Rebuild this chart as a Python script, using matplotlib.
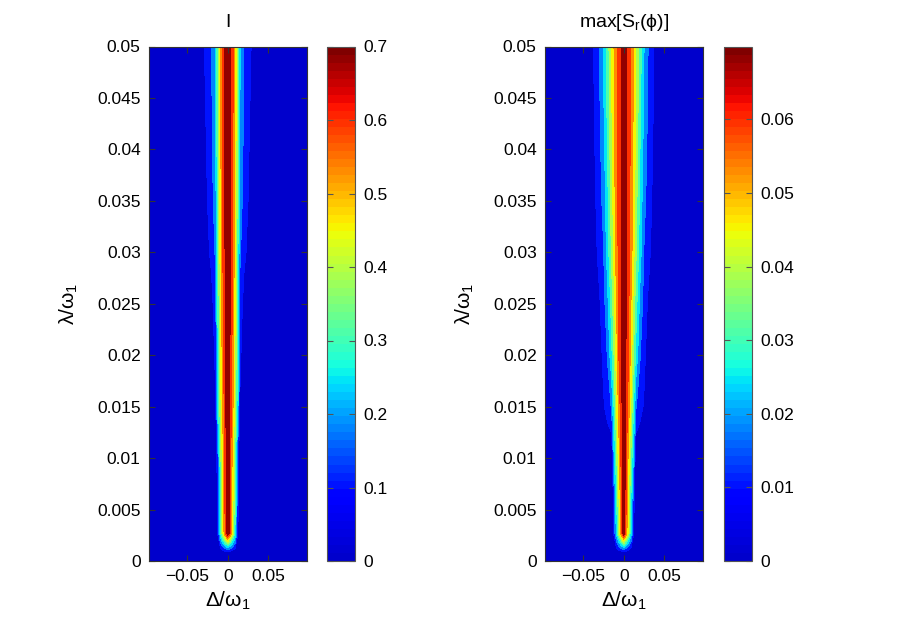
import numpy as np
import matplotlib
matplotlib.use("Agg")
import matplotlib.pyplot as plt
from matplotlib.colors import Normalize, LinearSegmentedColormap
from matplotlib.cm import ScalarMappable

plt.rcParams['font.family'] = ['Liberation Sans', 'DejaVu Sans']
plt.rcParams['mathtext.fontset'] = 'custom'
plt.rcParams['mathtext.rm'] = 'Liberation Sans'
plt.rcParams['mathtext.default'] = 'regular'

# detuning (half grid, mirrored about 0) and coupling values
delta_half = [0, 0.003, 0.006, 0.009, 0.012, 0.015, 0.02, 0.025, 0.03, 0.035, 0.04, 0.097]
lam = [0, 0.0007, 0.0027, 0.005, 0.01, 0.015, 0.02, 0.025, 0.03, 0.035, 0.04, 0.045, 0.05]

# I, one row per lam value, columns follow delta_half
I_half = [
    [0, 0, 0, 0, 0, 0, 0, 0, 0, 0, 0, 0],
    [0, 0, 0, 0, 0, 0, 0, 0, 0, 0, 0, 0],
    [0.70, 0.57, 0.42, 0.27, 0.08, 0, 0, 0, 0, 0, 0, 0],
    [0.70, 0.58, 0.44, 0.29, 0.10, 0, 0, 0, 0, 0, 0, 0],
    [0.70, 0.59, 0.46, 0.32, 0.13, 0, 0, 0, 0, 0, 0, 0],
    [0.70, 0.61, 0.51, 0.39, 0.25, 0.06, 0, 0, 0, 0, 0, 0],
    [0.70, 0.62, 0.53, 0.41, 0.27, 0.09, 0.01, 0, 0, 0, 0, 0],
    [0.70, 0.63, 0.55, 0.43, 0.29, 0.12, 0.04, 0, 0, 0, 0, 0],
    [0.70, 0.64, 0.56, 0.45, 0.31, 0.15, 0.09, 0.05, 0.01, 0, 0, 0],
    [0.70, 0.645, 0.57, 0.46, 0.33, 0.18, 0.11, 0.07, 0.03, 0, 0, 0],
    [0.70, 0.65, 0.57, 0.47, 0.34, 0.20, 0.12, 0.08, 0.04, 0, 0, 0],
    [0.70, 0.65, 0.58, 0.47, 0.35, 0.21, 0.13, 0.09, 0.05, 0.01, 0, 0],
    [0.70, 0.65, 0.58, 0.48, 0.35, 0.22, 0.14, 0.10, 0.06, 0.02, 0, 0],
]

# max[S_r(phi)]
S_half = [
    [0, 0, 0, 0, 0, 0, 0, 0, 0, 0, 0, 0],
    [0, 0, 0, 0, 0, 0, 0, 0, 0, 0, 0, 0],
    [0.0699, 0.054, 0.038, 0.023, 0.008, 0, 0, 0, 0, 0, 0, 0],
    [0.0699, 0.055, 0.040, 0.025, 0.009, 0, 0, 0, 0, 0, 0, 0],
    [0.0699, 0.058, 0.046, 0.033, 0.020, 0, 0, 0, 0, 0, 0, 0],
    [0.0699, 0.060, 0.052, 0.041, 0.028, 0.0145, 0.010, 0.006, 0.001, 0, 0, 0],
    [0.0699, 0.062, 0.056, 0.045, 0.035, 0.026, 0.0145, 0.009, 0.003, 0, 0, 0],
    [0.0699, 0.063, 0.057, 0.0485, 0.0395, 0.031, 0.019, 0.011, 0.006, 0.0025, 0, 0],
    [0.0699, 0.0635, 0.058, 0.052, 0.044, 0.036, 0.024, 0.0135, 0.0095, 0.005, 0.001, 0],
    [0.0699, 0.0635, 0.0585, 0.053, 0.0455, 0.038, 0.026, 0.016, 0.011, 0.0065, 0.002, 0],
    [0.0699, 0.063, 0.059, 0.054, 0.047, 0.040, 0.028, 0.018, 0.012, 0.0075, 0.003, 0],
    [0.0699, 0.063, 0.059, 0.055, 0.048, 0.041, 0.030, 0.020, 0.013, 0.0085, 0.0035, 0],
    [0.0699, 0.063, 0.059, 0.055, 0.049, 0.042, 0.031, 0.021, 0.014, 0.009, 0.004, 0],
]

x_ticks = [-0.05, 0, 0.05]
x_labels = ['\u22120.05', '0', '0.05']
y_ticks = [0, 0.005, 0.01, 0.015, 0.02, 0.025, 0.03, 0.035, 0.04, 0.045, 0.05]
y_labels = ['0', '0.005', '0.01', '0.015', '0.02', '0.025', '0.03', '0.035', '0.04', '0.045', '0.05']
I_cticks = [0, 0.1, 0.2, 0.3, 0.4, 0.5, 0.6, 0.7]
S_cticks = [0, 0.01, 0.02, 0.03, 0.04, 0.05, 0.06]
n_bands = 10
# where on the colour map each filled band takes its colour
band_pos = [0.0, 0.15, 0.25, 0.35, 0.45, 0.55, 0.65, 0.75, 0.85, 0.97]


def mirror(half):
    # data is symmetric in delta, so build the full grid from the right half
    half = np.array(half, dtype=float)
    return np.hstack([half[:, :0:-1], half])


delta = np.concatenate([-np.array(delta_half[:0:-1]), np.array(delta_half)])
I_full = mirror(I_half)
S_full = mirror(S_half)

# jet, with a slightly lighter blue end like the original
jet_seg = {
    'red': [(0, 0, 0), (0.35, 0, 0), (0.66, 1, 1), (0.89, 1, 1), (1, 0.5, 0.5)],
    'green': [(0, 0, 0), (0.125, 0, 0), (0.375, 1, 1), (0.64, 1, 1), (0.91, 0, 0), (1, 0, 0)],
    'blue': [(0, 0.8, 0.8), (0.11, 1, 1), (0.34, 1, 1), (0.65, 0, 0), (1, 0, 0)],
}
cmap = LinearSegmentedColormap('jet_m', jet_seg, N=64)
band_colors = [cmap(p) for p in band_pos]

W, H = 899, 631
fig = plt.figure(figsize=(W / 100, H / 100), dpi=100)

bot = 1 - 561 / H
hgt = (561 - 46.5) / H


def panel(ax_left, cb_left, Z, title, cticks):
    ax = fig.add_axes([ax_left / W, bot, 157.5 / W, hgt])
    cax = fig.add_axes([cb_left / W, bot, 28 / W, hgt])
    vmax = Z.max()
    levels = np.linspace(0, vmax, n_bands + 1)
    ax.contourf(delta, lam, Z, levels=levels, colors=band_colors)
    ax.set_xlim(delta[0], delta[-1])
    ax.set_ylim(0, 0.05)
    ax.set_xticks(x_ticks)
    ax.set_xticklabels(x_labels)
    ax.set_yticks(y_ticks)
    ax.set_yticklabels(y_labels)
    ax.tick_params(direction='in', top=True, right=True, length=4, width=0.8,
                   labelsize=12.5, color='#333333', pad=6)
    for s in ax.spines.values():
        s.set_color('#333333')
        s.set_linewidth(0.8)
    ax.set_title(title, fontsize=14, pad=14)
    ax.set_xlabel('\u0394/\u03c9$_1$', fontsize=15, labelpad=4)
    ax.set_ylabel('\u03bb/\u03c9$_1$', fontsize=15, labelpad=12)

    sm = ScalarMappable(norm=Normalize(0, vmax), cmap=cmap)
    cb = fig.colorbar(sm, cax=cax, ticks=cticks)
    cb.ax.set_yticklabels([('%g' % t) for t in cticks])
    cb.ax.tick_params(direction='in', left=True, right=True, length=4, width=0.8,
                      labelsize=12.5, color='#555555', pad=6)
    cb.outline.set_edgecolor('#555555')
    cb.outline.set_linewidth(0.8)
    return ax


panel(149, 327, I_full, 'I', I_cticks)
panel(545, 724, S_full, 'max[S$_r$(\u03d5)]', S_cticks)

fig.savefig('out.png', dpi=100)
